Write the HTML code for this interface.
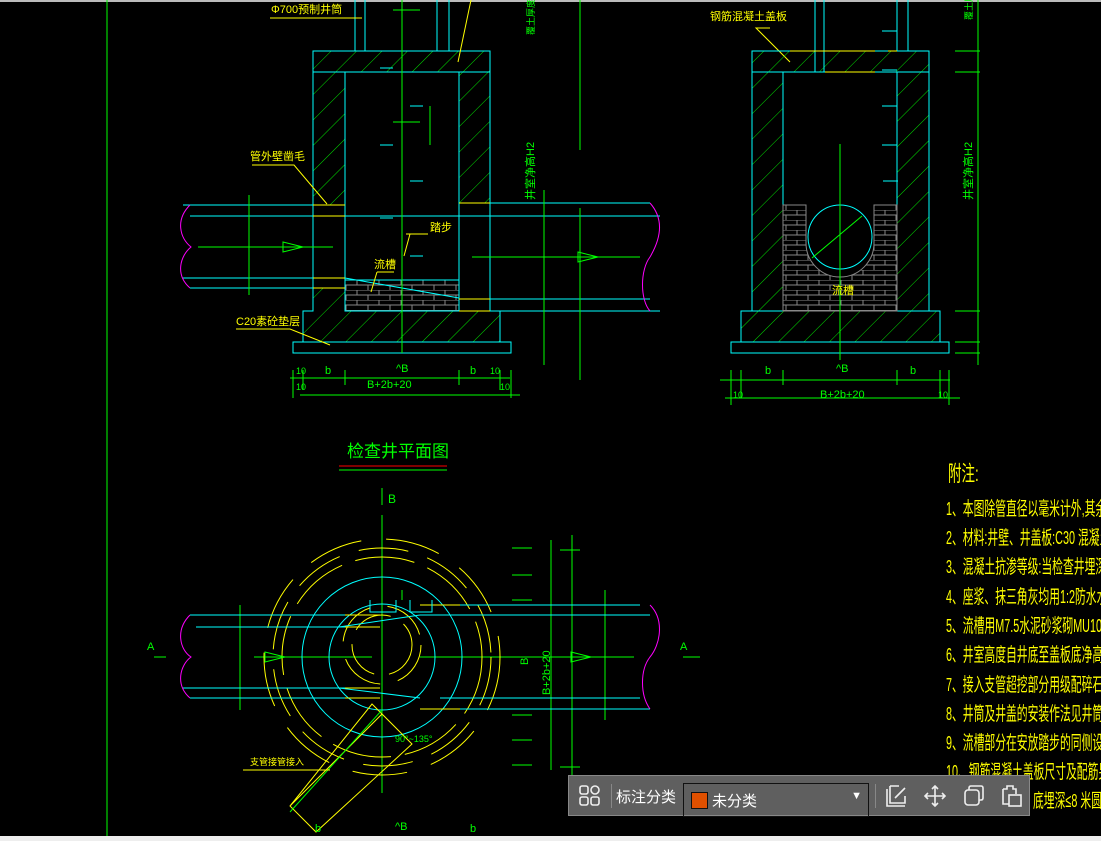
<!DOCTYPE html>
<html><head><meta charset="utf-8"><style>
html,body{margin:0;padding:0;background:#000;width:1101px;height:841px;overflow:hidden}
svg{display:block}
text{font-family:"Liberation Sans","Noto Sans CJK SC",sans-serif}
.tb{position:absolute;left:568px;top:775px;width:462px;height:41px;background:#5f5f5f;border:1px solid #888;box-sizing:border-box;font-family:"Liberation Sans","Noto Sans CJK SC",sans-serif;color:#fff;font-size:15px}
</style></head><body>
<svg width="1101" height="841" viewBox="0 0 1101 841">
<defs>
<pattern id="h" width="18" height="18" patternUnits="userSpaceOnUse" patternTransform="rotate(45)"><line x1="0" y1="0" x2="0" y2="18" stroke="#00e000" stroke-width="1"/></pattern>
<pattern id="br" width="22" height="10" patternUnits="userSpaceOnUse"><rect width="22" height="10" fill="#000"/><path d="M0 0H22M0 5H22M5 0V5M16 5V10" stroke="#888" stroke-width="1"/></pattern>
</defs>
<rect x="0" y="0" width="1101" height="2" fill="#bbb"/>
<rect x="0" y="836" width="1101" height="5" fill="#eee"/>
<line x1="107" y1="0" x2="107" y2="836" stroke="#0f0"/>

<!-- LEFT SECTION -->
<g fill="none">
<rect x="313" y="51" width="177" height="21" fill="url(#h)" stroke="#0ff"/>
<path d="M313 72V205H345V72Z" fill="url(#h)" stroke="#0ff"/>
<path d="M459 72V203H490V72Z" fill="url(#h)" stroke="#0ff"/>
<path d="M313 288V311H303V342H500V311H490V311H459V311H345V288Z" fill="url(#h)" stroke="#0ff"/>
<rect x="345" y="280" width="114" height="31" fill="url(#br)" stroke="#0ff"/>
<path d="M345 278L459 298" stroke="#0ff"/>
<rect x="293" y="342" width="218" height="11" stroke="#0ff"/>
<path d="M345 72V311M459 72V311M313 205V311M490 203V311" stroke="#0ff"/>
<path d="M355 0V51M365 0V51M437 0V51M449 0V51" stroke="#0ff"/>
<path d="M183 205H313M190 216H490M183 278H313M190 288H313M490 203H650M490 216H660M490 299H650M490 311H660" stroke="#0ff"/>
<path d="M313 205H345M313 216H345M313 278H345M313 288H345M459 203H490M459 299H490M459 311H490" stroke="#ff0"/>
<path d="M190 205C175 220 180 238 191 247C180 256 175 275 190 288" stroke="#f0f"/>
<path d="M650 203C665 220 660 240 650 257C640 270 640 300 650 311" stroke="#f0f"/>
<path d="M198 247H333M472 257H640M402 0V353M249 195V295M544 190V365" stroke="#0f0"/>
<path d="M283 242L303 247L283 252Z M578 252L598 257L578 262Z" stroke="#0f0"/>
<path d="M471 0L458 62" stroke="#ff0"/>
<path d="M270 18H362M252 165H294L327 204M236 329H290L330 345M406 234H428M410 234L404 256M377 272H394M377 272L371 292M770 28H756L790 62" stroke="#ff0"/>
<path d="M580 0V150M580 208V380M393 10H420M393 122H420M430 106V145M386 145H392" stroke="#0f0"/>
<path d="M290 378H510M300 395H520M293 370V398M303 370V390M345 370V385M459 370V385M500 370V390M511 370V398" stroke="#0f0"/>
<path d="M380 68h13M380 145h13M410 106h13M410 181h13M380 218h13M410 256h13" stroke="#0ff"/>
</g>
<g fill="#ff0" font-size="11">
<text x="271" y="13">Φ700预制井筒</text>
<text x="250" y="160">管外壁凿毛</text>
<text x="236" y="325">C20素砼垫层</text>
<text x="430" y="231">踏步</text>
<text x="374" y="268">流槽</text>
</g>
<g fill="#0f0" font-size="11">
<text x="325" y="374">b</text><text x="470" y="374">b</text><text x="396" y="372">^B</text>
<text x="367" y="388">B+2b+20</text>
<text x="296" y="390" font-size="9">10</text><text x="500" y="390" font-size="9">10</text>
<text x="296" y="374" font-size="9">10</text><text x="490" y="374" font-size="9">10</text>
</g>

<!-- RIGHT SECTION -->
<g fill="none">
<rect x="752" y="51" width="177" height="21" fill="url(#h)" stroke="#0ff"/>
<path d="M752 72V311H783V72Z" fill="url(#h)" stroke="#0ff"/>
<path d="M897 72V311H929V72Z" fill="url(#h)" stroke="#0ff"/>
<path d="M741 311H940V342H741Z" fill="url(#h)" stroke="#0ff"/>
<path d="M783 205H806V243A34 34 0 0 0 874 243V205H897V311H783Z" fill="url(#br)" stroke="#888"/>
<circle cx="840" cy="237" r="32" stroke="#0ff"/>
<rect x="731" y="342" width="218" height="11" stroke="#0ff"/>
<path d="M815 0V72M824 0V72M897 0V51M908 0V51M790 51H875M790 72H875M888 51H897M888 72H897" stroke="#0ff"/>
<path d="M790 51H875M888 51H897M825 72H875" stroke="#ff0"/>
<path d="M882 31h15M882 70h15M882 106h15M882 145h15M883 181h15" stroke="#0ff"/>
<path d="M840 144V360M812 258L862 216M978 0V365M955 51H980M955 72H980M955 311H980M955 342H980M955 353H980" stroke="#0f0"/>
<path d="M720 380H950M725 398H960M731 370V405M741 370V398M783 370V385M897 370V385M940 370V398M949 370V405" stroke="#0f0"/>
</g>
<g font-size="11">
<text x="710" y="20" fill="#ff0">钢筋混凝土盖板</text>
<text x="832" y="294" fill="#ff0">流槽</text>
<g fill="#0f0"><text x="765" y="374">b</text><text x="910" y="374">b</text><text x="836" y="372">^B</text><text x="820" y="398">B+2b+20</text>
<text x="733" y="398" font-size="9">10</text><text x="938" y="398" font-size="9">10</text>
<text transform="translate(972,200) rotate(-90)">井室净高H2</text>
<text transform="translate(534,200) rotate(-90)">井室净高H2</text>
<text transform="translate(972,20) rotate(-90)" font-size="9">覆土厚度</text>
<text transform="translate(534,35) rotate(-90)" font-size="9">覆土厚度</text>
</g></g>

<!-- PLAN -->
<text x="347" y="457" fill="#0f0" font-size="17">检查井平面图</text>
<line x1="339" y1="466" x2="447" y2="466" stroke="#f00"/>
<line x1="339" y1="470" x2="447" y2="470" stroke="#0f0"/>
<text x="388" y="503" fill="#0f0" font-size="12">B</text>
<g fill="none">
<path d="M382 488V505M382 515V793M154 657H166M254 657H372M420 657H500M440 657H634M683 657H700M402 590V600M551 540V770M572 535V776M605 590V720M240 605V710" stroke="#0f0"/>
<path d="M512 548H532M512 575H532M512 600H532M512 715H532M512 740H532M512 765H532M560 550H580M560 767H580" stroke="#0f0"/>
<circle cx="382" cy="657" r="80" stroke="#0ff"/>
<circle cx="382" cy="657" r="53" stroke="#0ff"/>
<circle cx="382" cy="657" r="100" stroke="#ff0" stroke-dasharray="60 14"/>
<circle cx="382" cy="657" r="109" stroke="#ff0" stroke-dasharray="50 20"/>
<circle cx="382" cy="657" r="118" stroke="#ff0" stroke-dasharray="55 25"/>
<circle cx="382" cy="645" r="39" stroke="#ff0" stroke-dasharray="45 18"/>
<circle cx="382" cy="645" r="30" stroke="#ff0" stroke-dasharray="40 15"/>
<path d="M190 615H345M196 627H345M183 688H345M190 698H345M420 605H640M420 615H650M440 698H640M420 709H650M339 627L420 615M339 688L420 698" stroke="#0ff"/>
<path d="M345 615H380M345 627H380M345 688H380M345 698H380M420 605H460M420 709H460" stroke="#ff0"/>
<path d="M370 600V612H396V600M410 600V612H432V600" stroke="#0ff"/>
<path d="M190 615C175 630 180 650 191 657C180 665 175 685 190 698" stroke="#f0f"/>
<path d="M650 605C665 620 660 645 650 657C640 670 640 695 650 709" stroke="#f0f"/>
<path d="M265 652L285 657L265 662Z M571 652L591 657L571 662Z" stroke="#0f0"/>
<path d="M372 704L412 744L316 832L290 806Z M382 714L290 806" stroke="#ff0"/>
<path d="M382 710L290 812" stroke="#0f0"/>
<path d="M243 770H330" stroke="#ff0"/>
</g>
<g font-size="11" fill="#0f0">
<text x="147" y="650">A</text><text x="680" y="650">A</text>
<text transform="translate(550,695) rotate(-90)">B+2b+20</text>
<text transform="translate(528,665) rotate(-90)">B</text>
<text x="395" y="742" font-size="9">90°~135°</text>
<text x="315" y="832">b</text><text x="470" y="832">b</text><text x="395" y="830">^B</text>
</g>
<text x="250" y="765" fill="#ff0" font-size="9">支管接管接入</text>

<!-- NOTES -->
<g fill="#ff0" font-size="15">
<text transform="translate(948,481) scale(0.75,1.2)" font-size="18">附注:</text>
<text transform="translate(946,515) scale(0.72,1.25)">1、本图除管直径以毫米计外,其余均以</text>
<text transform="translate(946,544) scale(0.72,1.25)">2、材料:井壁、井盖板:C30 混凝土;</text>
<text transform="translate(946,573) scale(0.72,1.25)">3、混凝土抗渗等级:当检查井埋深&lt;1</text>
<text transform="translate(946,603) scale(0.72,1.25)">4、座浆、抹三角灰均用1:2防水水泥</text>
<text transform="translate(946,632) scale(0.72,1.25)">5、流槽用M7.5水泥砂浆砌MU10砖</text>
<text transform="translate(946,661) scale(0.72,1.25)">6、井室高度自井底至盖板底净高H2</text>
<text transform="translate(946,691) scale(0.72,1.25)">7、接入支管超挖部分用级配碎石、混</text>
<text transform="translate(946,720) scale(0.72,1.25)">8、井筒及井盖的安装作法见井筒图。</text>
<text transform="translate(946,749) scale(0.72,1.25)">9、流槽部分在安放踏步的同侧设置脚</text>
<text transform="translate(946,778) scale(0.72,1.25)">10、钢筋混凝土盖板尺寸及配筋另见详</text>
<text transform="translate(1033,807) scale(0.72,1.25)">底埋深≤8 米圆形</text>
</g>
</svg>
<div class="tb">
<svg style="position:absolute;left:10px;top:9px" width="22" height="22" viewBox="0 0 22 22" fill="none" stroke="#eee" stroke-width="1.6"><rect x="1" y="1" width="8" height="8" rx="2"/><rect x="12" y="1" width="8" height="8" rx="4"/><rect x="1" y="12" width="8" height="8" rx="2"/><rect x="12" y="12" width="8" height="8" rx="2"/></svg>
<div style="position:absolute;left:42px;top:8px;width:1px;height:24px;background:#888"></div>
<span style="position:absolute;left:47px;top:10px">标注分类</span>
<div style="position:absolute;left:114px;top:7px;width:186px;height:34px;border:1px solid #111;box-sizing:border-box;height:34px">
<div style="position:absolute;left:7px;top:8px;width:15px;height:15px;background:#e05000;border:1px solid #111"></div>
<span style="position:absolute;left:28px;top:6px">未分类</span>
<span style="position:absolute;right:6px;top:6px;font-size:11px">▼</span></div>
<div style="position:absolute;left:306px;top:8px;width:1px;height:24px;background:#888"></div>
<svg style="position:absolute;left:316px;top:8px" width="140" height="24" viewBox="0 0 140 24" fill="none" stroke="#eee" stroke-width="1.6"><path d="M2 5V22H20M5 2H14M5 2V19H20V12M10 14L20 4"/><path d="M50 2V22M40 12H60M47 5L50 2L53 5M47 19L50 22L53 19M43 9L40 12L43 15M57 9L60 12L57 15"/><rect x="80" y="6" width="14" height="15" rx="3"/><path d="M84 6V4Q84 2 86 2H96Q98 2 98 4V14Q98 16 96 16H94"/><path d="M118 5V20H124M118 5H122V2H128V5H131V10"/><rect x="124" y="11" width="12" height="11"/></svg>
</div>
</body></html>
